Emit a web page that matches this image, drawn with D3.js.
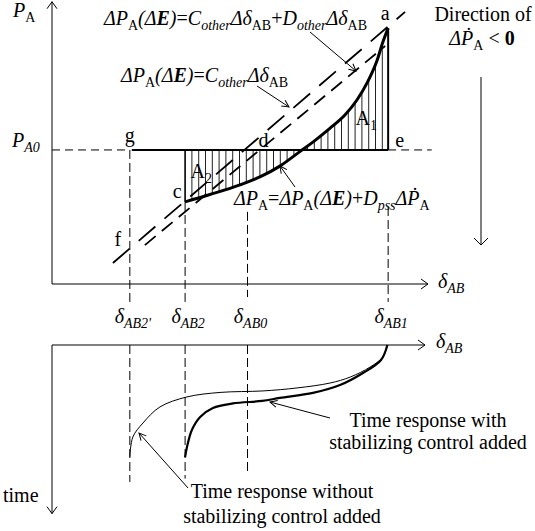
<!DOCTYPE html>
<html>
<head>
<meta charset="utf-8">
<script src="https://cdn.jsdelivr.net/npm/d3@7"></script>
<style>
  body { margin: 0; background: #fff; }
  svg { display: block; font-family: "Liberation Serif", "Times New Roman", serif; }
  text { font-size: 20px; fill: #000; }
</style>
</head>
<body>
<svg width="535" height="531"></svg>
<script>
// delta positions of the vertical guides: AB2', AB2, AB0, AB1
var deltaMarks = [20.7, 35.4, 52.0, 89.4];
var deltaMarkNames = ["AB2'", "AB2", "AB0", "AB1"];
var guideTopP = [47.2, 28.9, 25.4, 27.1];
var guideBottomP = [-6.7, -6.7, -4.6, -6.3];
var guideEndTime = [8.2, 8.0, 7.7];
var PA0 = 47.2;

// ΔP_A curve (thick)
var pDelta = [35.4, 42.0, 50.0, 55.3, 60.6, 66.0, 69.9, 73.9, 77.9, 81.1, 83.8, 86.4, 88.0, 89.4];
var pValue = [28.9, 31.5, 34.9, 37.7, 41.5, 46.7, 50.5, 54.8, 59.5, 64.8, 70.8, 78.5, 85.2, 90.1];

// straight dashed lines
var lineOtherDelta = [16.2, 93.9];     // C_other Δδ
var lineOtherP = [7.4, 95.8];
var lineDampDelta = [24.7, 88.6];      // C_other Δδ + D_other Δδ
var lineDampP = [13.7, 83.8];

// time responses (lower panel)
var freeDelta = [89.2, 88.0, 84.6, 79.3, 73.9, 65.2, 56.1, 44.7, 35.9, 28.7, 24.2, 21.5, 20.7];
var freeTime = [0, 0.72, 1.32, 1.92, 2.28, 2.57, 2.75, 2.84, 3.11, 3.71, 4.67, 5.51, 6.71];
var ctrlDelta = [89.2, 87.5, 82.7, 76.6, 69.4, 60.6, 55.9, 48.1, 42.8, 39.4, 37.2, 35.9, 35.4];
var ctrlTime = [0, 0.90, 1.68, 2.40, 2.87, 3.17, 3.35, 3.50, 3.77, 4.31, 5.09, 6.11, 6.71];

var svg = d3.select("svg");

var x = d3.scaleLinear().domain([0, 100]).range([52, 428]);
var p = d3.scaleLinear().domain([0, 100]).range([284, 0]);
var t = d3.scaleLinear().domain([0, 10]).range([345, 512]);

var defs = svg.append("defs");
function marker(id, d) {
  defs.append("marker")
      .attr("id", id)
      .attr("viewBox", "-10 -8 12 16")
      .attr("markerUnits", "userSpaceOnUse")
      .attr("markerWidth", 12)
      .attr("markerHeight", 16)
      .attr("refX", 0)
      .attr("refY", 0)
      .attr("orient", "auto")
    .append("path")
      .attr("d", d)
      .attr("fill", "none")
      .attr("stroke", "#000")
      .attr("stroke-width", 1);
}
marker("axisHead", "M-7,-5L0,0L-7,5");
marker("bigHead", "M-7,-7L0,0L-7,7");
marker("noteHead", "M-7,-3.5L0,0L-7,3.5");

function seg(x1, y1, x2, y2) {
  return svg.append("line")
      .attr("x1", x1).attr("y1", y1)
      .attr("x2", x2).attr("y2", y2)
      .attr("stroke", "#000")
      .attr("stroke-width", 1);
}

function rich(tx, ty, parts, anchor) {
  var txt = svg.append("text")
      .attr("x", tx)
      .attr("y", ty)
      .attr("text-anchor", anchor || "start");
  var shift = 0;
  parts.forEach(function(q) {
    var s = txt.append("tspan").text(q[0]);
    var sub = q[1].indexOf("s") >= 0;
    var target = sub ? 5 : 0;
    if (target !== shift) { s.attr("dy", target - shift); shift = target; }
    if (sub) s.style("font-size", "14px");
    s.style("font-style", q[1].indexOf("i") >= 0 ? "italic" : "normal")
     .style("font-weight", q[1].indexOf("b") >= 0 ? "bold" : "normal");
  });
  return txt;
}

// ---- upper panel axes
seg(x(0), p(0), x(0), p(99.4)).attr("marker-end", "url(#axisHead)");
seg(x(0), p(0), x(100), p(0)).attr("marker-end", "url(#axisHead)");
rich(13, 17, [["P", "i"], ["A", "s"]]);
rich(12, 147, [["P", "i"], ["A0", "is"]]);
rich(438, 288, [["δ", "i"], ["AB", "is"]]);

// hatching between the curve and P_A0
var pts = pDelta.map(function(d, i) { return [d, pValue[i]]; });
var area = d3.area()
    .x(function(d) { return x(d[0]); })
    .y0(p(PA0))
    .y1(function(d) { return p(d[1]); })
    .curve(d3.curveMonotoneX);
defs.append("clipPath").attr("id", "hatchClip")
  .append("path").attr("d", area(pts));
svg.append("g")
    .attr("clip-path", "url(#hatchClip)")
  .selectAll("line")
  .data(d3.range(x(pDelta[0]) + 6.8, x(89.4), 6.8))
  .enter().append("line")
    .attr("x1", function(d) { return d; })
    .attr("x2", function(d) { return d; })
    .attr("y1", p(100))
    .attr("y2", p(0))
    .attr("stroke", "#222")
    .attr("stroke-width", 1);

// P_A0 level
seg(x(0), p(PA0), x(deltaMarks[0]), p(PA0)).attr("stroke-dasharray", "8,5");
seg(x(deltaMarks[0]) + 2, p(PA0), x(deltaMarks[3]), p(PA0)).attr("stroke-width", 2);
seg(x(deltaMarks[3]), p(PA0), x(101), p(PA0)).attr("stroke-dasharray", "8,5");

// vertical guides, upper panel
deltaMarks.forEach(function(d, i) {
  seg(x(d), p(guideTopP[i]), x(d), p(guideBottomP[i])).attr("stroke-dasharray", "9,4");
  rich(x(d) + 3, 323, [["δ", "i"], [deltaMarkNames[i], "is"]], "middle");
});
seg(x(deltaMarks[1]), p(PA0), x(deltaMarks[1]), p(pValue[0])).attr("stroke-width", 1.6);
seg(x(deltaMarks[3]), p(PA0), x(deltaMarks[3]), p(pValue[pValue.length - 1])).attr("stroke-width", 2);

// straight dashed lines
seg(x(lineOtherDelta[0]), p(lineOtherP[0]), x(lineOtherDelta[1]), p(lineOtherP[1]))
    .attr("stroke-width", 1.8).attr("stroke-dasharray", "22,12");
seg(x(lineDampDelta[0]), p(lineDampP[0]), x(lineDampDelta[1]), p(lineDampP[1]))
    .attr("stroke-width", 1.8).attr("stroke-dasharray", "14,8");

// ΔP_A curve
svg.append("path")
    .datum(pts)
    .attr("fill", "none")
    .attr("stroke", "#000")
    .attr("stroke-width", 3)
    .attr("d", d3.line()
      .x(function(d) { return x(d[0]); })
      .y(function(d) { return p(d[1]); })
      .curve(d3.curveMonotoneX));

// point labels
svg.append("text").attr("x", x(89.4) - 3).attr("y", p(90.1) - 8).attr("text-anchor", "middle").text("a");
svg.append("text").attr("x", x(89.4) + 7).attr("y", p(PA0) - 3).text("e");
svg.append("text").attr("x", x(52.0) + 16).attr("y", p(PA0) - 3).attr("text-anchor", "middle").text("d");
svg.append("text").attr("x", x(20.7)).attr("y", p(PA0) - 8).attr("text-anchor", "middle").text("g");
svg.append("text").attr("x", x(35.4) - 8).attr("y", p(28.9) - 4).attr("text-anchor", "middle").text("c");
svg.append("text").attr("x", x(20.7) - 12).attr("y", p(12.7) - 2).attr("text-anchor", "middle").text("f");
rich(x(83.6), p(56.0), [["A", "u"], ["1", "s"]], "middle");
rich(x(39.7), p(37.5), [["A", "u"], ["2", "s"]], "middle");

// formulas
rich(104, 25, [["Δ", "i"], ["P", "i"], ["A", "s"], ["(Δ", "i"], ["E", "ib"], [")", "i"], ["=", "u"],
  ["C", "i"], ["other", "is"], ["Δδ", "i"], ["AB", "s"], ["+", "u"], ["D", "i"], ["other", "is"],
  ["Δδ", "i"], ["AB", "s"]]);
rich(121, 82, [["Δ", "i"], ["P", "i"], ["A", "s"], ["(Δ", "i"], ["E", "ib"], [")", "i"], ["=", "u"],
  ["C", "i"], ["other", "is"], ["Δδ", "i"], ["AB", "s"]]);
rich(234, 205, [["Δ", "i"], ["P", "i"], ["A", "s"], ["=", "u"], ["Δ", "i"], ["P", "i"], ["A", "s"],
  ["(Δ", "i"], ["E", "ib"], [")", "i"], ["+", "u"], ["D", "i"], ["pss", "is"], ["Δ", "i"], ["Ṗ", "i"], ["A", "s"]]);
seg(310, 32, 356, 71).attr("marker-end", "url(#noteHead)");
seg(257, 86, 289, 107).attr("marker-end", "url(#noteHead)");
seg(295, 187, 280, 166).attr("marker-end", "url(#noteHead)");

// direction note
svg.append("text").attr("x", 483).attr("y", 21).attr("text-anchor", "middle").text("Direction of");
rich(482, 45, [["Δ", "i"], ["Ṗ", "i"], ["A", "s"], [" < ", "u"], ["0", "b"]], "middle");
seg(481, 77, 481, 245).attr("marker-end", "url(#bigHead)");

// ---- lower panel
seg(x(0), t(0), x(99.2), t(0)).attr("marker-end", "url(#axisHead)");
seg(x(0), t(0), x(0), t(10.1)).attr("marker-end", "url(#axisHead)");
rich(436, 348, [["δ", "i"], ["AB", "is"]]);
svg.append("text").attr("x", 3).attr("y", 502).text("time");

guideEndTime.forEach(function(e, i) {
  seg(x(deltaMarks[i]), t(0), x(deltaMarks[i]), t(e)).attr("stroke-dasharray", "9,4");
});

var resp = d3.line()
    .x(function(d) { return x(d[0]); })
    .y(function(d) { return t(d[1]); })
    .curve(d3.curveCatmullRom.alpha(0.5));

svg.append("path")
    .datum(freeDelta.map(function(d, i) { return [d, freeTime[i]]; }))
    .attr("fill", "none").attr("stroke", "#000").attr("stroke-width", 1)
    .attr("d", resp);
svg.append("path")
    .datum(ctrlDelta.map(function(d, i) { return [d, ctrlTime[i]]; }))
    .attr("fill", "none").attr("stroke", "#000").attr("stroke-width", 2.2)
    .attr("d", resp);

svg.append("text").attr("x", 428).attr("y", 427).attr("text-anchor", "middle").text("Time response with");
svg.append("text").attr("x", 428).attr("y", 449).attr("text-anchor", "middle").text("stabilizing control added");
svg.append("text").attr("x", 282).attr("y", 498).attr("text-anchor", "middle").text("Time response without");
svg.append("text").attr("x", 282).attr("y", 523).attr("text-anchor", "middle").text("stabilizing control added");
seg(330, 418, 270, 402).attr("marker-end", "url(#noteHead)");
seg(188, 488, 139, 433).attr("marker-end", "url(#noteHead)");
</script>
</body>
</html>
